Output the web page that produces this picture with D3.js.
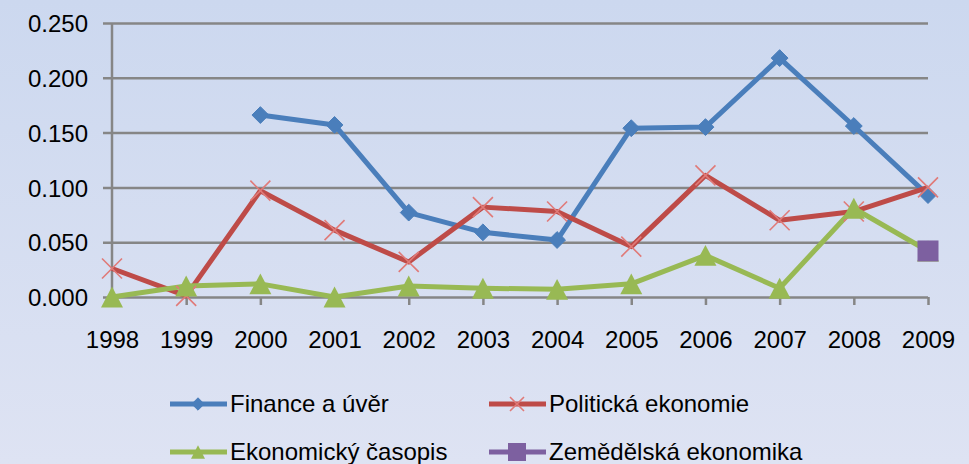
<!DOCTYPE html>
<html>
<head>
<meta charset="utf-8">
<script src="https://cdn.jsdelivr.net/npm/d3@7"></script>
<style>
  body { margin: 0; }
  svg { display: block; }
  text { font-family: "Liberation Sans", Arial, sans-serif; fill: #000; }
</style>
</head>
<body>
<svg></svg>
<script>
// chart data
const years = ['1998','1999','2000','2001','2002','2003','2004','2005','2006','2007','2008','2009']
const finance = [null, null, 0.166, 0.157, 0.077, 0.059, 0.052, 0.154, 0.155, 0.218, 0.156, 0.093]
const politicka = [0.026, 0.001, 0.097, 0.061, 0.032, 0.082, 0.078, 0.046, 0.111, 0.070, 0.078, 0.100]
const ekonomicky = [0.000, 0.010, 0.012, 0.000, 0.010, 0.008, 0.007, 0.012, 0.038, 0.008, 0.081, 0.042]
const zemedelska = [null, null, null, null, null, null, null, null, null, null, null, 0.042]
const yTicks = [0, 0.05, 0.1, 0.15, 0.2, 0.25]

const width = 969
const height = 464

const series = [
  {name: 'Finance a úvěr', values: finance, color: '#4a7ebb', mark: 'diamond'},
  {name: 'Politická ekonomie', values: politicka, color: '#be4b48', mark: 'x'},
  {name: 'Ekonomický časopis', values: ekonomicky, color: '#98b954', mark: 'triangle'},
  {name: 'Zemědělská ekonomika', values: zemedelska, color: '#7d60a0', mark: 'square'}
]

const svg = d3.select('svg')
    .attr('width', width)
    .attr('height', height)

// background gradient
const grad = svg.append('defs').append('linearGradient')
    .attr('id', 'bg').attr('x1', 0).attr('y1', 0).attr('x2', 0).attr('y2', 1)
grad.append('stop').attr('offset', '0%').attr('stop-color', '#ccd8ef')
grad.append('stop').attr('offset', '100%').attr('stop-color', '#dee3f3')
svg.append('rect').attr('width', width).attr('height', height).attr('fill', 'url(#bg)')

let xScale = d3.scalePoint().domain(years).range([112, 928])
let yScale = d3.scaleLinear().domain([0, 0.25]).range([297, 23])

// y axis with gridlines
let yAxis = d3.axisLeft(yScale)
    .tickValues(yTicks)
    .tickFormat(d3.format('.3f'))
    .tickSize(-(928 - 103))
let yg = svg.append('g')
    .attr('transform', 'translate(103, 0)')
    .call(yAxis)
yg.select('.domain').remove()
yg.selectAll('line').attr('stroke', '#868686').attr('stroke-width', 2.5)
yg.selectAll('text').attr('font-size', 24).attr('x', -15).attr('dy', '0.36em')

svg.append('line')
    .attr('x1', 112).attr('x2', 112)
    .attr('y1', yScale(0.25)).attr('y2', yScale(0))
    .attr('stroke', '#868686').attr('stroke-width', 2.5)

// x axis
let xAxis = d3.axisBottom(xScale).tickSize(8).tickPadding(26)
let xg = svg.append('g')
    .attr('transform', 'translate(0, ' + yScale(0) + ')')
    .call(xAxis)
xg.select('.domain').remove()
xg.selectAll('line').attr('stroke', '#868686').attr('stroke-width', 2.5)
xg.selectAll('text').attr('font-size', 24)

// markers
let drawMarker = (g, mark, color, s) => {
  if (mark === 'diamond') {
    g.append('path').attr('d', d3.symbol(d3.symbolDiamond2, s * s * 0.5)())
      .attr('fill', color).attr('stroke', color).attr('stroke-width', 1)
  } else if (mark === 'triangle') {
    let h = s * 0.95
    g.append('path')
      .attr('d', 'M0,' + (-h / 2) + 'L' + (s / 2) + ',' + (h / 2) + 'L' + (-s / 2) + ',' + (h / 2) + 'Z')
      .attr('fill', color)
  } else if (mark === 'square') {
    g.append('rect').attr('x', -s / 2).attr('y', -s / 2).attr('width', s).attr('height', s)
      .attr('fill', color)
  } else if (mark === 'x') {
    let r = s / 2
    g.append('path').attr('d', 'M' + (-r) + ',' + (-r) + 'L' + r + ',' + r + 'M' + (-r) + ',' + r + 'L' + r + ',' + (-r))
      .attr('stroke', '#e07a78').attr('stroke-width', 1.6).attr('fill', 'none')
  }
}

let line = d3.line()
    .defined(d => d != null)
    .x((d, i) => xScale(years[i]))
    .y(d => yScale(d))

let sizes = {diamond: 19, x: 20, triangle: 22, square: 21}

series.forEach(s => {
  svg.append('path')
      .datum(s.values)
      .attr('d', line)
      .attr('fill', 'none')
      .attr('stroke', s.color)
      .attr('stroke-width', 5)
      .attr('stroke-linejoin', 'round')
})
series.forEach(s => {
  s.values.forEach((v, i) => {
    if (v == null) return
    let g = svg.append('g').attr('transform', 'translate(' + xScale(years[i]) + ',' + yScale(v) + ')')
    drawMarker(g, s.mark, s.color, sizes[s.mark])
  })
})

// legend
let legendPos = [[170, 404], [489, 404], [170, 452], [489, 452]]
series.forEach((s, i) => {
  let [lx, ly] = legendPos[i]
  let g = svg.append('g').attr('transform', 'translate(' + lx + ',' + ly + ')')
  g.append('line').attr('x1', 0).attr('x2', 57).attr('y1', 0).attr('y2', 0)
      .attr('stroke', s.color).attr('stroke-width', 5)
  let m = g.append('g').attr('transform', 'translate(28, 0)')
  drawMarker(m, s.mark, s.color, s.mark === 'square' ? 18 : 14)
  g.append('text').attr('x', 60).attr('y', 8).attr('font-size', 24)
      .text(s.name)
})
</script>
</body>
</html>
